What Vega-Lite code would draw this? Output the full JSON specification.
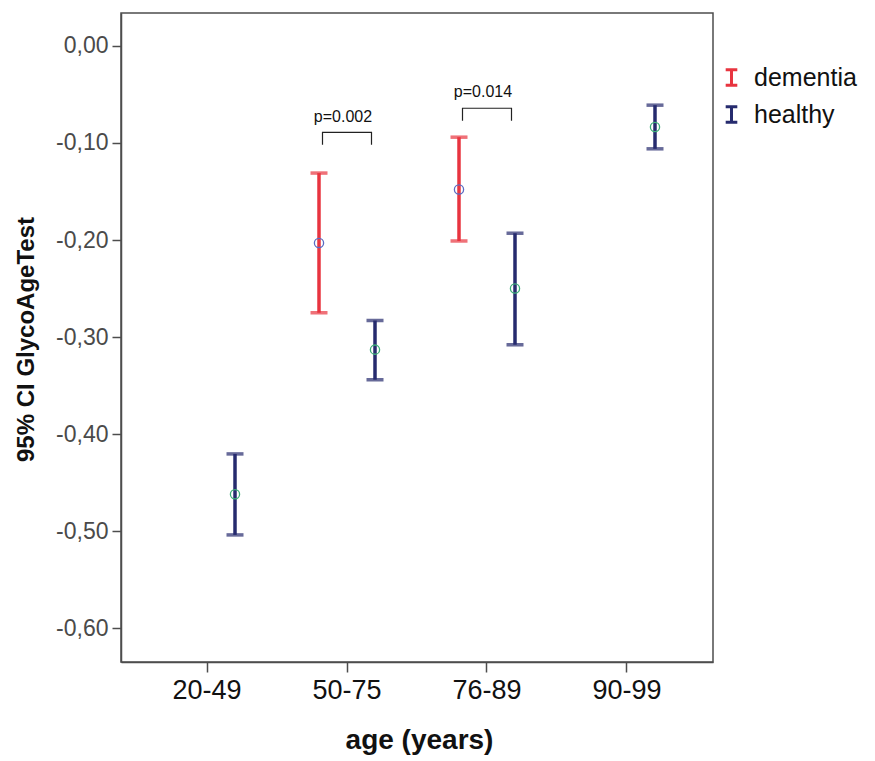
{
  "$schema": "https://vega.github.io/schema/vega-lite/v6.json",
  "width": 592,
  "height": 649,
  "autosize": {"type": "none"},
  "padding": {"left": 121, "top": 13, "right": 162, "bottom": 99},
  "background": "white",
  "datasets": {
    "ci": [
      {"age": "20-49", "group": "healthy", "mean": -0.462, "low": -0.504, "high": -0.4205},
      {"age": "50-75", "group": "dementia", "mean": -0.203, "low": -0.275, "high": -0.131},
      {"age": "50-75", "group": "healthy", "mean": -0.313, "low": -0.344, "high": -0.283},
      {"age": "76-89", "group": "dementia", "mean": -0.148, "low": -0.201, "high": -0.094},
      {"age": "76-89", "group": "healthy", "mean": -0.250, "low": -0.308, "high": -0.193},
      {"age": "90-99", "group": "healthy", "mean": -0.0835, "low": -0.106, "high": -0.061}
    ],
    "brackets": [
      {"bracket": "b1", "age": "50-75", "side": "L", "ord": 1, "yv": -0.1017},
      {"bracket": "b1", "age": "50-75", "side": "L", "ord": 2, "yv": -0.0890},
      {"bracket": "b1", "age": "50-75", "side": "R", "ord": 3, "yv": -0.0890},
      {"bracket": "b1", "age": "50-75", "side": "R", "ord": 4, "yv": -0.1017},
      {"bracket": "b2", "age": "76-89", "side": "L", "ord": 1, "yv": -0.0770},
      {"bracket": "b2", "age": "76-89", "side": "L", "ord": 2, "yv": -0.0642},
      {"bracket": "b2", "age": "76-89", "side": "R", "ord": 3, "yv": -0.0642},
      {"bracket": "b2", "age": "76-89", "side": "R", "ord": 4, "yv": -0.0770}
    ],
    "notes": [
      {"age": "50-75", "label": "p=0.002", "yv": -0.078},
      {"age": "76-89", "label": "p=0.014", "yv": -0.0523}
    ]
  },
  "encoding": {
    "x": {
      "field": "age",
      "type": "nominal",
      "scale": {"domain": ["20-49", "50-75", "76-89", "90-99"], "paddingInner": 0, "paddingOuter": 0.1143},
      "axis": {
        "title": "age (years)",
        "labelAngle": 0,
        "labelFontSize": 27,
        "labelColor": "#111",
        "labelPadding": 5,
        "tickSize": 10,
        "titleFontSize": 28,
        "titleFontWeight": "bold",
        "titleColor": "#111",
        "titleX": 298,
        "titleY": 86,
        "titleBaseline": "alphabetic"
      }
    }
  },
  "layer": [
    {
      "data": {"name": "ci"},
      "mark": {"type": "rule", "strokeWidth": 3.5},
      "encoding": {
        "xOffset": {"field": "group", "type": "nominal", "scale": {"type": "point", "domain": ["dementia", "healthy"], "padding": 0.75}},
        "y": {
          "field": "low",
          "type": "quantitative",
          "scale": {"domain": [-0.635, 0.034], "nice": false, "zero": false},
          "axis": {
            "title": "95% CI GlycoAgeTest",
            "values": [-0.6, -0.5, -0.4, -0.3, -0.2, -0.1, 0],
            "labelExpr": "replace(format(abs(datum.value) < 1e-9 ? 0 : datum.value, '.2f'), '.', ',')",
            "grid": false,
            "labelFontSize": 23,
            "labelColor": "#4a4a4a",
            "labelPadding": 4,
            "tickSize": 9,
            "titleFontSize": 24,
            "titleFontWeight": "bold",
            "titleColor": "#111",
            "titleX": -88,
            "titleY": 326,
            "titleBaseline": "alphabetic"
          }
        },
        "y2": {"field": "high"},
        "color": {
          "field": "group",
          "type": "nominal",
          "scale": {"domain": ["dementia", "healthy"], "range": ["#e8343f", "#262b6e"]},
          "legend": {
            "title": null,
            "orient": "none",
            "legendX": 598,
            "legendY": 52,
            "padding": 0,
            "symbolType": "M-0.75,-1H0.75M0,-1V1M-0.75,1H0.75",
            "symbolSize": 240,
            "symbolStrokeWidth": 3,
            "labelFontSize": 25,
            "labelColor": "#111",
            "labelOffset": 10,
            "rowPadding": 8
          }
        }
      }
    },
    {
      "data": {"name": "ci"},
      "transform": [{"fold": ["low", "high"], "as": ["end", "val"]}],
      "mark": {"type": "tick", "thickness": 3.5, "size": 17, "orient": "horizontal"},
      "encoding": {
        "xOffset": {"field": "group", "type": "nominal", "scale": {"type": "point", "domain": ["dementia", "healthy"], "padding": 0.75}},
        "y": {"field": "val", "type": "quantitative"},
        "color": {"condition": {"test": "datum.group === 'dementia'", "value": "#e8343f"}, "value": "#262b6e"}
      }
    },
    {
      "data": {"name": "ci"},
      "mark": {"type": "point", "shape": "circle", "filled": false, "size": 85, "strokeWidth": 1.3, "opacity": 1},
      "encoding": {
        "xOffset": {"field": "group", "type": "nominal", "scale": {"type": "point", "domain": ["dementia", "healthy"], "padding": 0.75}},
        "y": {"field": "mean", "type": "quantitative"},
        "stroke": {"condition": {"test": "datum.group === 'dementia'", "value": "#5a6bc2"}, "value": "#3daf79"}
      }
    },
    {
      "data": {"name": "brackets"},
      "mark": {"type": "line", "color": "#222", "strokeWidth": 1.2},
      "encoding": {
        "xOffset": {"field": "side", "type": "nominal", "scale": {"type": "point", "domain": ["L", "R"], "padding": 0.9286}},
        "y": {"field": "yv", "type": "quantitative"},
        "detail": {"field": "bracket"},
        "order": {"field": "ord"}
      }
    },
    {
      "data": {"name": "notes"},
      "mark": {"type": "text", "fontSize": 16, "color": "#111", "baseline": "alphabetic", "dx": -4},
      "encoding": {
        "y": {"field": "yv", "type": "quantitative"},
        "text": {"field": "label"}
      }
    }
  ],
  "resolve": {"scale": {"xOffset": "independent"}},
  "config": {
    "font": "Liberation Sans",
    "view": {"stroke": "#4d4d4d", "strokeWidth": 1.5},
    "axis": {"domainColor": "#4d4d4d", "domainWidth": 1.5, "tickColor": "#4d4d4d", "tickWidth": 1.5},
    "locale": {"number": {"decimal": ",", "thousands": ".", "grouping": [3], "currency": ["", ""], "minus": "-"}}
  }
}
